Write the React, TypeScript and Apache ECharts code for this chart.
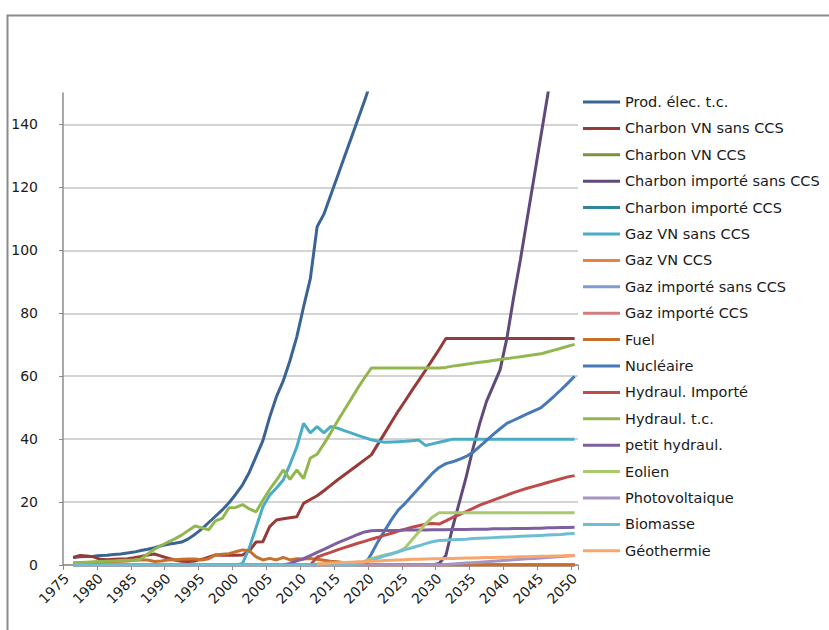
import React, { useEffect, useRef } from "react";
import * as echarts from "echarts";

const firstYear = 1975;
const lastYear = 2050;
const years: string[] = [];
for (let y = firstYear; y <= lastYear; y++) years.push(String(y));

const seriesNames = [
  "Prod. élec. t.c.",
  "Charbon VN sans CCS",
  "Charbon VN CCS",
  "Charbon importé sans CCS",
  "Charbon importé CCS",
  "Gaz VN sans CCS",
  "Gaz VN CCS",
  "Gaz importé sans CCS",
  "Gaz importé CCS",
  "Fuel",
  "Nucléaire",
  "Hydraul. Importé",
  "Hydraul. t.c.",
  "petit hydraul.",
  "Eolien",
  "Photovoltaique",
  "Biomasse",
  "Géothermie",
];

const seriesColors = [
  "#3B6496", "#983A37", "#77933C", "#604A7B", "#31859C", "#4BACC6",
  "#E8843F", "#7C9DD1", "#D27D7B", "#C7702C", "#4779B8", "#BE4B48",
  "#93B750", "#7D60A0", "#A8C96E", "#A694C4", "#6DBDD5", "#F8A66C",
];

// Each series: first year with a value, then the values year by year
const prodStart = 1976;
const prodValues = [2.4, 2.6, 2.7, 2.8, 3.0, 3.1, 3.3, 3.5, 3.8, 4.1, 4.6, 5.0, 5.5, 6.1, 6.6, 6.9, 7.3, 8.3, 9.8, 11.5, 13.5, 15.5, 17.5, 19.8, 22.5, 25.5, 29.5, 34.5, 39.5, 47, 53.5, 58.5, 65, 72.5, 82, 91, 107.5, 111.5, 117.5, 123.5, 129.5, 135.5, 141.5, 147.5, 154];

const charbonVNStart = 1976;
const charbonVNValues = [2.4, 3.0, 2.9, 2.6, 1.8, 1.7, 1.8, 1.9, 2.0, 2.3, 2.7, 3.2, 3.5, 2.8, 2.2, 1.6, 1.2, 1.1, 1.3, 1.8, 2.5, 3.2, 3.1, 3.2, 3.1, 3.2, 4.5, 7.3, 7.4, 12.2, 14.3, 14.7, 15.0, 15.3, 19.6, 20.8, 22, 23.6, 25.3, 27, 28.6, 30.2, 31.8, 33.4, 35, 38.5, 42, 45.5, 49, 52.2, 55.5, 58.7, 61.9, 65.2, 68.5, 72, 72, 72, 72, 72, 72, 72, 72, 72, 72, 72, 72, 72, 72, 72, 72, 72, 72, 72, 72];

const zeroStart = 1976;
const charbonVNCCSValues = [0, 0, 0, 0, 0, 0, 0, 0, 0, 0, 0, 0, 0, 0, 0, 0, 0, 0, 0, 0, 0, 0, 0, 0, 0, 0, 0, 0, 0, 0, 0, 0, 0, 0, 0, 0, 0, 0, 0, 0, 0, 0, 0, 0, 0, 0, 0, 0, 0, 0, 0, 0, 0, 0, 0, 0, 0, 0, 0, 0, 0, 0, 0, 0, 0, 0, 0, 0, 0, 0, 0, 0, 0, 0, 0];
const charbonImpCCSValues = charbonVNCCSValues;
const gazVNCCSValues = charbonVNCCSValues;
const gazImpSansValues = charbonVNCCSValues;
const gazImpCCSValues = charbonVNCCSValues;

const charbonImpStart = 2029;
const charbonImpValues = [0, 0.5, 3, 12, 20, 28, 37, 45, 52, 57, 62, 72, 85, 97, 110, 123, 136, 149, 162];

const gazVNStart = 1976;
const gazVNValues = [0, 0, 0, 0, 0, 0, 0, 0, 0, 0, 0, 0, 0, 0, 0, 0, 0, 0, 0, 0, 0, 0, 0, 0, 0, 0.5, 5.5, 12, 18.5, 22.2, 24.5, 27, 32, 37.5, 45, 42, 44, 42, 44, 43.5, 42.7, 42, 41.2, 40.5, 39.8, 39.3, 39, 39.1, 39.2, 39.3, 39.5, 39.7, 38, 38.5, 39, 39.5, 40, 40, 40, 40, 40, 40, 40, 40, 40, 40, 40, 40, 40, 40, 40, 40, 40, 40, 40];

const fuelStart = 1976;
const fuelValues = [0.5, 0.6, 0.7, 0.8, 0.9, 1.0, 1.1, 1.2, 1.3, 1.5, 1.6, 1.6, 1.1, 1.3, 1.6, 1.7, 1.8, 1.9, 1.9, 1.6, 2.0, 3.2, 3.4, 3.6, 4.2, 4.8, 4.5, 2.6, 1.6, 2.1, 1.6, 2.4, 1.6, 2.0, 1.9, 2.1, 1.8, 1.5, 1.2, 1.0, 0.7, 0.4, 0.1, 0, 0, 0, 0, 0, 0, 0, 0, 0, 0, 0, 0, 0, 0, 0, 0, 0, 0, 0, 0, 0, 0, 0, 0, 0, 0, 0, 0, 0, 0, 0, 0];

const nucleaireStart = 2019;
const nucleaireValues = [0, 3.5, 7.5, 11, 14.5, 17.5, 19.6, 22, 24.4, 26.8, 29.1, 31, 32.2, 32.8, 33.6, 34.5, 35.8, 37.7, 39.6, 41.5, 43.3, 45, 46, 47, 48, 49, 49.9, 51.8, 53.7, 55.7, 57.8, 60];

const hydroImpStart = 2011;
const hydroImpValues = [0, 2.5, 3.3, 4.0, 4.8, 5.5, 6.2, 6.9, 7.5, 8.2, 8.8, 9.5, 10.1, 10.8, 11.4, 12, 12.5, 13, 13.2, 13, 14, 15.1, 16, 17, 18, 19, 19.8, 20.6, 21.4, 22.2, 23, 23.7, 24.4, 25, 25.6, 26.2, 26.8, 27.4, 28, 28.4];

const hydroStart = 1976;
const hydroValues = [0.7, 0.8, 0.9, 1.0, 1.1, 1.2, 1.3, 1.4, 1.5, 1.6, 1.9, 3.5, 5.0, 6.2, 7.3, 8.3, 9.5, 11, 12.4, 11.8, 11.2, 14, 14.8, 18.2, 18.3, 19.2, 17.8, 16.9, 20.6, 24, 27, 30.2, 27.2, 30.2, 27.5, 34, 35.2, 38.5, 42, 45.7, 49.2, 52.7, 56.2, 59.5, 62.6, 62.6, 62.6, 62.6, 62.6, 62.6, 62.6, 62.6, 62.6, 62.6, 62.6, 62.8, 63.2, 63.5, 63.8, 64.1, 64.4, 64.7, 65.0, 65.3, 65.6, 65.9, 66.2, 66.5, 66.8, 67.1, 67.7, 68.3, 68.9, 69.5, 70.1];

const petitHydroStart = 2007;
const petitHydroValues = [0, 0.5, 1.3, 2.0, 3.0, 4.0, 5.0, 6.0, 7.0, 7.9, 8.8, 9.7, 10.5, 10.9, 11.0, 11.0, 11.0, 11.0, 11.1, 11.1, 11.1, 11.1, 11.2, 11.2, 11.2, 11.3, 11.3, 11.3, 11.4, 11.4, 11.4, 11.5, 11.5, 11.5, 11.6, 11.6, 11.6, 11.7, 11.7, 11.8, 11.8, 11.9, 11.9, 12.0];

const eolienStart = 2017;
const eolienValues = [0, 0.5, 1.2, 2, 2.6, 3.2, 3.7, 4.2, 5.5, 8, 10.5, 13, 15.2, 16.6, 16.6, 16.6, 16.6, 16.6, 16.6, 16.6, 16.6, 16.6, 16.6, 16.6, 16.6, 16.6, 16.6, 16.6, 16.6, 16.6, 16.6, 16.6, 16.6, 16.6];

const pvStart = 2010;
const pvValues = [0, 0, 0, 0, 0, 0, 0, 0, 0, 0, 0, 0, 0, 0, 0, 0, 0, 0, 0, 0, 0, 0.15, 0.3, 0.45, 0.6, 0.75, 0.9, 1.05, 1.2, 1.35, 1.5, 1.65, 1.8, 1.95, 2.1, 2.25, 2.4, 2.55, 2.7, 2.85, 3.0];

const biomasseStart = 1976;
const biomasseValues = [0, 0, 0, 0, 0, 0, 0, 0, 0, 0, 0, 0, 0, 0, 0, 0, 0, 0, 0, 0, 0, 0, 0, 0, 0, 0, 0, 0, 0, 0, 0, 0, 0, 0, 0, 0, 0, 0, 0, 0, 0, 0, 0.4, 0.9, 1.5, 2.2, 2.9, 3.5, 4.2, 4.9, 5.5, 6.1, 6.8, 7.4, 7.8, 7.9, 8.0, 8.1, 8.2, 8.4, 8.5, 8.6, 8.7, 8.8, 8.9, 9.0, 9.1, 9.2, 9.3, 9.4, 9.5, 9.6, 9.7, 9.9, 10.0];

const geoStart = 2012;
const geoValues = [0.4, 0.5, 0.6, 0.7, 0.8, 0.9, 1.0, 1.1, 1.2, 1.3, 1.4, 1.5, 1.6, 1.7, 1.8, 1.85, 1.9, 1.95, 2.0, 2.05, 2.1, 2.15, 2.2, 2.25, 2.3, 2.35, 2.4, 2.45, 2.5, 2.55, 2.6, 2.65, 2.7, 2.75, 2.8, 2.85, 2.9, 3.0, 3.1];

const seriesStarts = [
  prodStart, charbonVNStart, zeroStart, charbonImpStart, zeroStart, gazVNStart,
  zeroStart, zeroStart, zeroStart, fuelStart, nucleaireStart, hydroImpStart,
  hydroStart, petitHydroStart, eolienStart, pvStart, biomasseStart, geoStart,
];
const seriesValues = [
  prodValues, charbonVNValues, charbonVNCCSValues, charbonImpValues, charbonImpCCSValues, gazVNValues,
  gazVNCCSValues, gazImpSansValues, gazImpCCSValues, fuelValues, nucleaireValues, hydroImpValues,
  hydroValues, petitHydroValues, eolienValues, pvValues, biomasseValues, geoValues,
];

const yTicks = [0, 20, 40, 60, 80, 100, 120, 140];

function align(start: number, values: number[]): (number | null)[] {
  return years.map((y) => {
    const i = Number(y) - start;
    return i >= 0 && i < values.length ? values[i] : null;
  });
}

export default function App() {
  const ref = useRef<HTMLDivElement>(null);
  useEffect(() => {
    if (!ref.current) return;
    const chart = echarts.init(ref.current, undefined, { renderer: "svg" });
    const font = "DejaVu Sans";
    chart.setOption({
      animation: false,
      backgroundColor: "#ffffff",
      textStyle: { fontFamily: font },
      graphic: [
        {
          type: "rect",
          shape: { x: 7.5, y: 15.5, width: 900, height: 700 },
          style: { fill: "none", stroke: "#8a8a8a", lineWidth: 2 },
          silent: true,
        },
      ],
      grid: { left: 63, right: 251, top: 93, bottom: 65, containLabel: false },
      legend: {
        orient: "vertical",
        left: 583,
        top: 94,
        padding: 0,
        icon: "rect",
        itemWidth: 37,
        itemHeight: 3,
        itemGap: 10.4,
        data: seriesNames,
        textStyle: { fontSize: 14.5, color: "#1a1a1a", fontFamily: font, lineHeight: 16 },
      },
      xAxis: {
        type: "category",
        data: years,
        boundaryGap: true,
        axisLine: { lineStyle: { color: "#8c8c8c", width: 1.5 } },
        axisTick: { show: true, interval: 4, length: 5, lineStyle: { color: "#8c8c8c" } },
        axisLabel: { interval: 4, rotate: 45, fontSize: 14, color: "#1a1a1a", margin: 11, fontFamily: font },
        splitLine: { show: false },
      },
      yAxis: {
        type: "value",
        min: yTicks[0],
        max: 150,
        interval: yTicks[1] - yTicks[0],
        axisLine: { show: true, lineStyle: { color: "#8c8c8c", width: 1.5 } },
        axisTick: { show: true, length: 4, lineStyle: { color: "#8c8c8c" } },
        axisLabel: { fontSize: 14, color: "#1a1a1a", margin: 25, showMaxLabel: false, fontFamily: font },
        splitLine: { show: true, showMaxLine: false, lineStyle: { color: "#c4c4c4", width: 1.5 } },
      },
      series: seriesNames.map((name, i) => ({
        name,
        type: "line",
        data: align(seriesStarts[i], seriesValues[i]),
        symbol: "none",
        showSymbol: false,
        connectNulls: false,
        clip: true,
        color: seriesColors[i],
        lineStyle: { width: 3, color: seriesColors[i] },
      })),
    });
    return () => chart.dispose();
  }, []);
  return (
    <div
      ref={ref}
      style={{ position: "absolute", left: 0, top: 0, width: 829, height: 630 }}
    />
  );
}
